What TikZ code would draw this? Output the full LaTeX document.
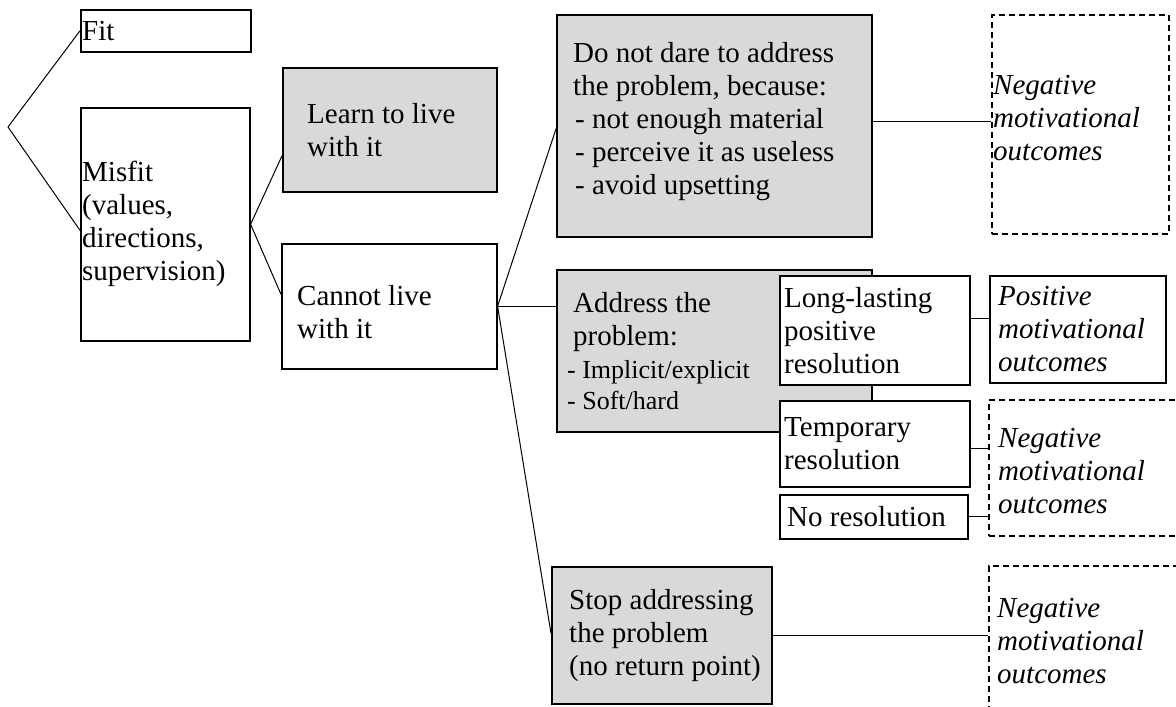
\documentclass[tikz,border=0pt]{standalone}
\usepackage{fontspec}
\setmainfont{Liberation Serif}
\definecolor{boxgray}{HTML}{D9D9D9}
\begin{document}
\begin{tikzpicture}[x=1pt,y=-1pt,
  box/.style={draw=black, line width=1.6pt, fill=white, inner sep=0pt, anchor=north west},
  gbox/.style={box, fill=boxgray},
  dbox/.style={draw=black, line width=1.5pt, dash pattern=on 6pt off 4pt, inner sep=0pt, anchor=north west},
  txt/.style={anchor=west, align=left, inner sep=0pt, font=\fontsize{29}{33}\selectfont},
  itxt/.style={txt, font=\fontsize{29}{33}\selectfont\itshape},
  link/.style={draw=black, line width=1pt}
]
\useasboundingbox (0,0) rectangle (1176,707);
\clip (0,0) rectangle (1176,707);
\fill[white] (0,0) rectangle (1176,707);

% boxes
\node[box, minimum width=170pt, minimum height=42pt] (fit) at (80,9) {};
\node[box, minimum width=169pt, minimum height=233pt] (misfit) at (80,107) {};
\node[gbox, minimum width=214pt, minimum height=124pt] (learn) at (282,67) {};
\node[box, minimum width=215pt, minimum height=125pt] (cannot) at (281,243) {};
\node[gbox, minimum width=315pt, minimum height=222pt] (dare) at (556,14) {};
\node[dbox, minimum width=177pt, minimum height=219pt] (neg1) at (991,14) {};
\node[gbox, minimum width=315pt, minimum height=162pt] (address) at (556,269) {};
\node[box, minimum width=190pt, minimum height=109pt] (long) at (779,275) {};
\node[box, minimum width=176pt, minimum height=107pt] (pos) at (989,275) {};
\node[box, minimum width=190pt, minimum height=86pt] (temp) at (779,400) {};
\node[dbox, minimum width=200pt, minimum height=136pt] (neg2) at (988,399) {};
\node[box, minimum width=188pt, minimum height=44pt] (nores) at (779,494) {};
\node[gbox, minimum width=220pt, minimum height=137pt] (stop) at (551,566) {};
\node[dbox, minimum width=200pt, minimum height=150pt] (neg3) at (988,565) {};
\coordinate (apex) at (8,127);

% texts
\node[txt] (fit-t) at ([xshift=2pt]fit.west) {Fit};
\node[txt] (misfit-t) at ([xshift=2pt]misfit.west) {Misfit\\(values,\\directions,\\supervision)};
\node[txt] (learn-t) at ([xshift=25pt]learn.west) {Learn to live\\with it};
\node[txt] (cannot-t) at ([xshift=16pt,yshift=-6pt]cannot.west) {Cannot live\\with it};
\node[txt] (dare-t) at ([xshift=17pt,yshift=4pt]dare.west) {Do not dare to address\\the problem, because:\\\hspace*{2pt}- not enough material\\\hspace*{2pt}- perceive it as useless\\\hspace*{2pt}- avoid upsetting};
\node[itxt] (neg1-t) at ([xshift=2pt,yshift=6pt]neg1.west) {Negative\\motivational\\outcomes};
\node[txt] (address-t) at ([xshift=11pt]address.west) {\hspace*{6pt}Address the\\\hspace*{6pt}problem:\\{\fontsize{26}{30}\selectfont - Implicit/explicit}\\[-2pt]{\fontsize{26}{30}\selectfont - Soft/hard}};
\node[txt] (long-t) at ([xshift=5pt]long.west) {Long-lasting\\positive\\resolution};
\node[itxt] (pos-t) at ([xshift=9pt]pos.west) {Positive\\motivational\\outcomes};
\node[txt] (temp-t) at ([xshift=5pt]temp.west) {Temporary\\resolution};
\node[itxt] (neg2-t) at ([xshift=10pt,yshift=-3pt]neg2.west) {Negative\\motivational\\outcomes};
\node[txt] (nores-t) at ([xshift=8pt]nores.west) {No resolution};
\node[txt] (stop-t) at ([xshift=18pt]stop.west) {Stop addressing\\the problem\\(no return point)};
\node[itxt] (neg3-t) at ([xshift=9pt]neg3.west) {Negative\\motivational\\outcomes};

% connectors
\draw[link] (apex) -- (fit.west);
\draw[link] (apex) -- ([yshift=-6pt]misfit.west);
\draw[link] (misfit.east) -- ([yshift=-26pt]learn.west);
\draw[link] (misfit.east) -- ([yshift=12pt]cannot.west);
\draw[link] (cannot.east) -- ([yshift=-3pt]dare.west);
\draw[link] (cannot.east) -- (cannot.east -| address.west);
\draw[link] (cannot.east) -- ([yshift=2pt]stop.west);
\draw[link] ([yshift=4pt]dare.east) -- ([yshift=4pt]dare.east -| neg1.west);
\draw[link] ([yshift=12pt]long.east) -- ([yshift=12pt]long.east -| pos.west);
\draw[link] ([yshift=-5pt]temp.east) -- ([yshift=-5pt]temp.east -| neg2.west);
\draw[link] (nores.east) -- (nores.east -| neg2.west);
\draw[link] (stop.east) -- (stop.east -| neg3.west);
\end{tikzpicture}
\end{document}
